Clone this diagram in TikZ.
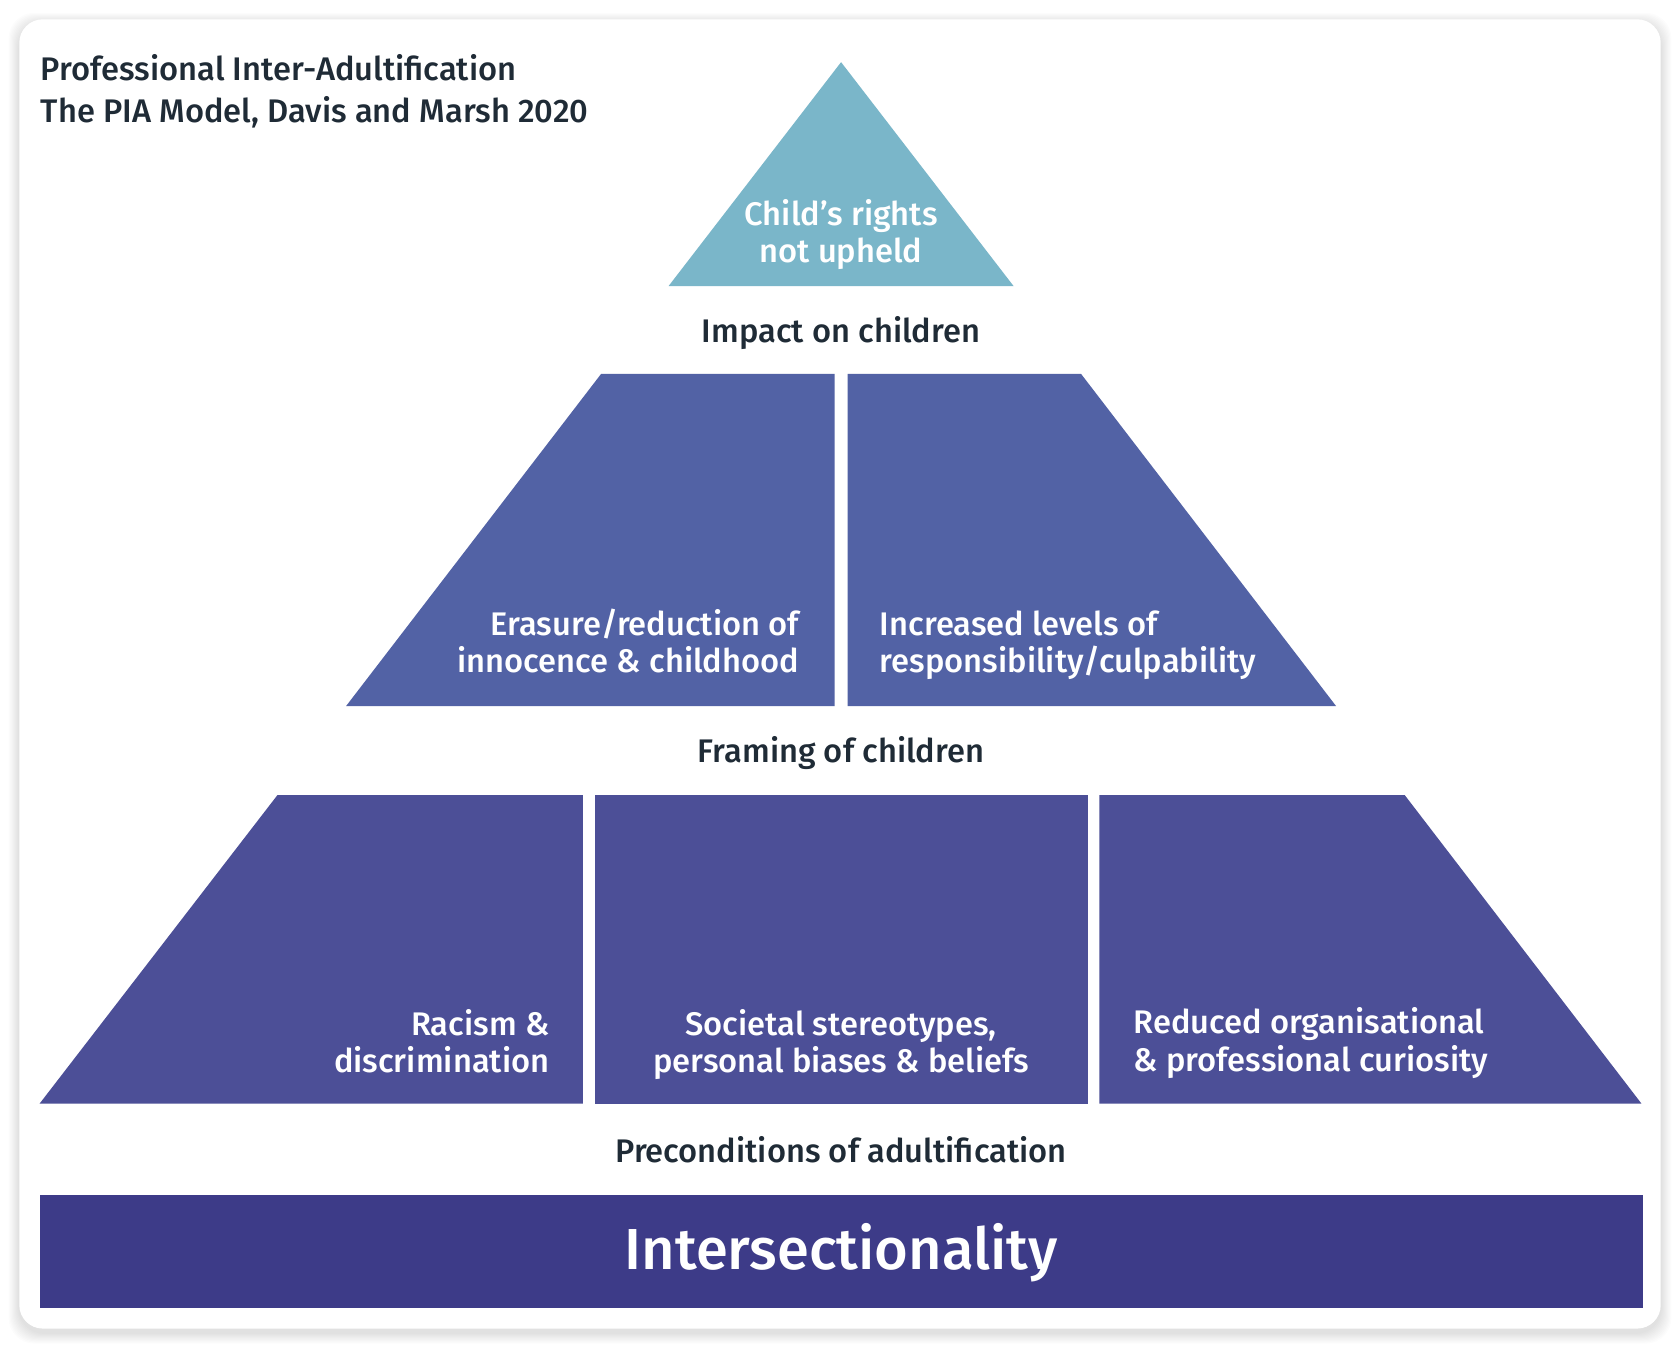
\documentclass[tikz,border=0pt]{standalone}
\usepackage{fontspec}
\setmainfont{Fira Sans}
\newfontfamily\medfont{Fira Sans Medium}
\definecolor{teal1}{HTML}{7AB6C9}
\definecolor{midc}{HTML}{5262A5}
\definecolor{lowc}{HTML}{4C4F97}
\definecolor{barc}{HTML}{3D3B88}
\definecolor{ink}{HTML}{1F2B36}
\begin{document}
\begin{tikzpicture}[x=1pt,y=-1pt,
  txt/.style={font=\medfont\fontsize{30.5}{35}\selectfont, inner sep=0, anchor=base},
  dark/.style={txt, text=ink},
  light/.style={txt, text=white}]
\useasboundingbox (0,0) rectangle (1568,1258);
\fill[white] (0,0) rectangle (1568,1258);
% card shadow
\foreach \i in {1,...,10}{
  \fill[black, opacity=0.012, rounded corners=24] (18-\i,18-\i+4) rectangle (1550+\i,1240+\i+4);
}
\fill[white, rounded corners=22] (18,18) rectangle (1550,1240);
% title
\node[dark, anchor=base west, align=left, font=\medfont\fontsize{30.5}{39}\selectfont] (title) at (38,114)
  {Professional Inter-Adultification\\The PIA Model, Davis and Marsh 2020};
% apex
\fill[teal1] (785,58) -- (946,267) -- (624,267) -- cycle;
\node[light, align=center] (apex) at (785,245) {Child’s rights\\not upheld};
\node[dark] (impact) at (785,320) {Impact on children};
% middle layer
\fill[midc] (561,349) -- (779,349) -- (779,659) -- (323,659) -- cycle;
\fill[midc] (791,349) -- (1009,349) -- (1247,659) -- (791,659) -- cycle;
\node[light, anchor=base east, align=right] (erasure) at (746,628) {Erasure/reduction of\\innocence \& childhood};
\node[light, anchor=base west, align=left] (resp) at (821,628) {Increased levels of\\responsibility/culpability};
\node[dark] (framing) at (785,712) {Framing of children};
% bottom layer
\fill[lowc] (259,742) -- (544,742) -- (544,1030) -- (37,1030) -- cycle;
\fill[lowc] (555,742) rectangle (1015,1030);
\fill[lowc] (1026,742) -- (1311,742) -- (1532,1030) -- (1026,1030) -- cycle;
\node[light, anchor=base east, align=right] (racism) at (513,1001) {Racism \&\\discrimination};
\node[light, align=center] (soc) at (785,1001) {Societal stereotypes,\\personal biases \& beliefs};
\node[light, anchor=base west, align=left] (reduced) at (1058,1000) {Reduced organisational\\\& professional curiosity};
\node[dark] (precond) at (785,1085) {Preconditions of adultification};
% base bar
\fill[barc] (37,1115) rectangle (1533,1221);
\node[light, font=\medfont\fontsize{54}{60}\selectfont] (inter) at (785,1185) {Intersectionality};
\end{tikzpicture}
\end{document}
